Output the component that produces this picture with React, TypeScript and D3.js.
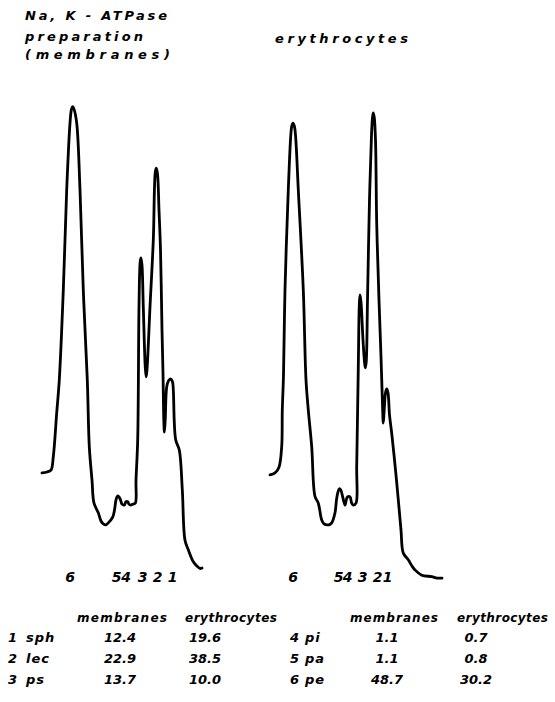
import React from "react";
import * as d3 from "d3";

// Densitometer traces: [distance along plate (mm), optical density (% of full scale)]
const membranesTrace: [number, number][] = [
  [2, 22.3], [7, 22.5], [11, 22.9], [13.3, 25.7], [16.7, 34.8], [19.3, 41.7], [23.3, 60.4],
  [26.7, 81.3], [30, 95.2], [31.5, 98.1], [32.7, 98.6], [34, 98.1], [36.7, 95.2], [40, 81.3],
  [43.3, 60.4], [47.3, 41.7], [49.3, 27.8], [52, 20.8], [54, 16.0], [58.3, 14.0], [61, 12.3],
  [63.3, 11.7], [66, 11.5], [68.3, 11.9], [72.7, 13.1], [74.5, 14.6], [76, 16.7], [77.5, 17.5],
  [79, 17.3], [80.5, 16.7], [82, 15.8], [84.3, 15.6], [86, 16.3], [87.7, 16.3], [89, 15.8],
  [90.5, 15.6], [93, 15.8], [95.3, 16.0], [96, 20.8], [97.7, 29.2], [99, 56.9], [100.2, 66.3],
  [101, 67.1], [102, 65.6], [103.3, 56.9], [105.3, 44.2], [106.2, 42.3], [107, 43.8], [110, 56.9],
  [113.3, 70.8], [115.3, 85.0], [116.3, 85.8], [117.5, 84.6], [119, 77.1], [120.5, 68.8],
  [122, 52.1], [123, 43.1], [123.8, 33.3], [124.4, 30.8], [125.2, 33.3], [126.7, 40.2],
  [128.5, 41.5], [130.5, 41.9], [132.5, 41.3], [133.3, 39.6], [135.7, 29.2], [139.3, 27.1],
  [142.3, 18.8], [145, 8.3], [148.3, 6.3], [153.3, 3.8], [157, 2.9], [160, 2.4], [162, 2.5],
];

const erythrocytesTrace: [number, number][] = [
  [2, 21.9], [7, 22.3], [11, 23.5], [13.7, 27.8], [14.3, 35.4], [15.5, 42.7], [17, 60.4],
  [20.3, 81.3], [22.8, 92.7], [23.8, 94.6], [25, 95.2], [26.3, 94.6], [27.5, 92.7], [30.3, 81.3],
  [35.3, 60.4], [38, 41.7], [40.3, 35.4], [43.7, 27.8], [47, 17.4], [50.3, 16.0], [53.7, 12.5],
  [56, 11.7], [58.7, 11.5], [61, 11.5], [63.7, 11.9], [67, 14.0], [68.5, 16.7], [69.7, 18.1],
  [71.3, 19.0], [72.7, 18.8], [74.7, 17.3], [77, 15.6], [78.3, 16.7], [79.5, 17.3], [82, 17.3],
  [83.7, 16.0], [85.3, 15.6], [88, 16.0], [88.7, 23.6], [90.3, 44.4], [91.3, 57.3], [92, 59.4],
  [93, 57.9], [95, 50.0], [96.5, 45.4], [97.3, 44.2], [98.2, 45.4], [99.5, 58.3], [101.5, 79.2],
  [103.5, 92.7], [104.5, 96.3], [105.3, 97.3], [106.3, 96.3], [107.5, 91.7], [108.7, 74.4],
  [111, 58.3], [113, 46.5], [114.5, 36.5], [115.3, 32.7], [116.2, 35.4], [117.5, 39.0],
  [118.7, 39.8], [120, 39.0], [121.5, 34.4], [123.7, 30.6], [127, 24.0], [130.3, 16.7],
  [133, 10.4], [135.3, 5.6], [140.3, 4.2], [144, 2.9], [147, 2.1], [153.7, 1.0], [163.7, 0.7],
  [169, 0.4], [174, 0.4],
];

// Spot numbers under the traces and their positions (mm)
const spotLabels = ["6", "5", "4", "3", "2", "1"];
const membranesSpotPos = [30, 76.5, 86, 102.5, 117.5, 132.5];
const erythrocytesSpotPos = [25, 70.5, 79.5, 94.5, 109.5, 119.5];

// Table
const spotNumbers = ["1", "2", "3", "4", "5", "6"];
const lipids = ["sph", "lec", "ps", "pi", "pa", "pe"];
const membranesPct = [12.4, 22.9, 13.7, 1.1, 1.1, 48.7];
const erythrocytesPct = [19.6, 38.5, 10.0, 0.7, 0.8, 30.2];

const W = 555;
const H = 702;
const FONT = "'DejaVu Sans', sans-serif";

export default function App() {
  const y = d3.scaleLinear().domain([0, 100]).range([580, 100]);
  const xLeft = d3.scaleLinear().domain([0, 180]).range([40, 220]);
  const xRight = d3.scaleLinear().domain([0, 180]).range([268, 448]);

  const mkLine = (x: d3.ScaleLinear<number, number>) =>
    d3
      .line<[number, number]>()
      .x((d) => x(d[0]))
      .y((d) => y(d[1]))
      .curve(d3.curveCatmullRom.alpha(0.5));

  const leftPath = mkLine(xLeft)(membranesTrace) || "";
  const rightPath = mkLine(xRight)(erythrocytesTrace) || "";

  const textStyle = {
    fontFamily: FONT,
    fontWeight: "bold" as const,
    fontStyle: "italic" as const,
    fill: "#000",
  };

  const rowBase = [641.5, 663, 683.5];

  return (
    <svg
      width={W}
      height={H}
      viewBox={`0 0 ${W} ${H}`}
      style={{ position: "absolute", left: 0, top: 0, background: "#fff" }}
    >
      <rect width={W} height={H} fill="#fff" />
      {/* Titles */}
      <g style={textStyle} fontSize={13}>
        <text x={25} y={20} textLength={142} lengthAdjust="spacing">Na, K - ATPase</text>
        <text x={25} y={41} textLength={118} lengthAdjust="spacing">preparation</text>
        <text x={25} y={59} textLength={145} lengthAdjust="spacing">(membranes)</text>
        <text x={275} y={43} textLength={133} lengthAdjust="spacing">erythrocytes</text>
      </g>

      {/* Traces */}
      <path d={leftPath} fill="none" stroke="#000" strokeWidth={2.8} strokeLinejoin="round" strokeLinecap="round" />
      <path d={rightPath} fill="none" stroke="#000" strokeWidth={2.8} strokeLinejoin="round" strokeLinecap="round" />

      {/* Spot labels */}
      <g style={textStyle} fontSize={14} textAnchor="middle">
        {spotLabels.map((s, i) => (
          <text key={"l" + i} x={xLeft(membranesSpotPos[i])} y={582}>{s}</text>
        ))}
        {spotLabels.map((s, i) => (
          <text key={"r" + i} x={xRight(erythrocytesSpotPos[i])} y={582}>{s}</text>
        ))}
      </g>

      {/* Table headers */}
      <g style={textStyle} fontSize={12}>
        <text x={77} y={622} textLength={90} lengthAdjust="spacing">membranes</text>
        <text x={185} y={622} textLength={92} lengthAdjust="spacing">erythrocytes</text>
        <text x={350} y={622} textLength={88} lengthAdjust="spacing">membranes</text>
        <text x={457} y={622} textLength={91} lengthAdjust="spacing">erythrocytes</text>
      </g>

      {/* Table rows */}
      <g style={textStyle} fontSize={13}>
        {spotNumbers.map((n, i) => {
          const col = i < 3 ? 0 : 1;
          const row = i % 3;
          const yb = rowBase[row];
          const numX = col === 0 ? 8 : 290;
          const nameX = col === 0 ? 26 : 305;
          const memX = col === 0 ? 120 : 387;
          const eryX = col === 0 ? 205 : 476;
          return (
            <g key={n}>
              <text x={numX} y={yb}>{n}</text>
              <text x={nameX} y={yb} letterSpacing={1}>{lipids[i]}</text>
              <text x={memX} y={yb} textAnchor="middle">{membranesPct[i].toFixed(1)}</text>
              <text x={eryX} y={yb} textAnchor="middle">{erythrocytesPct[i].toFixed(1)}</text>
            </g>
          );
        })}
      </g>
    </svg>
  );
}
